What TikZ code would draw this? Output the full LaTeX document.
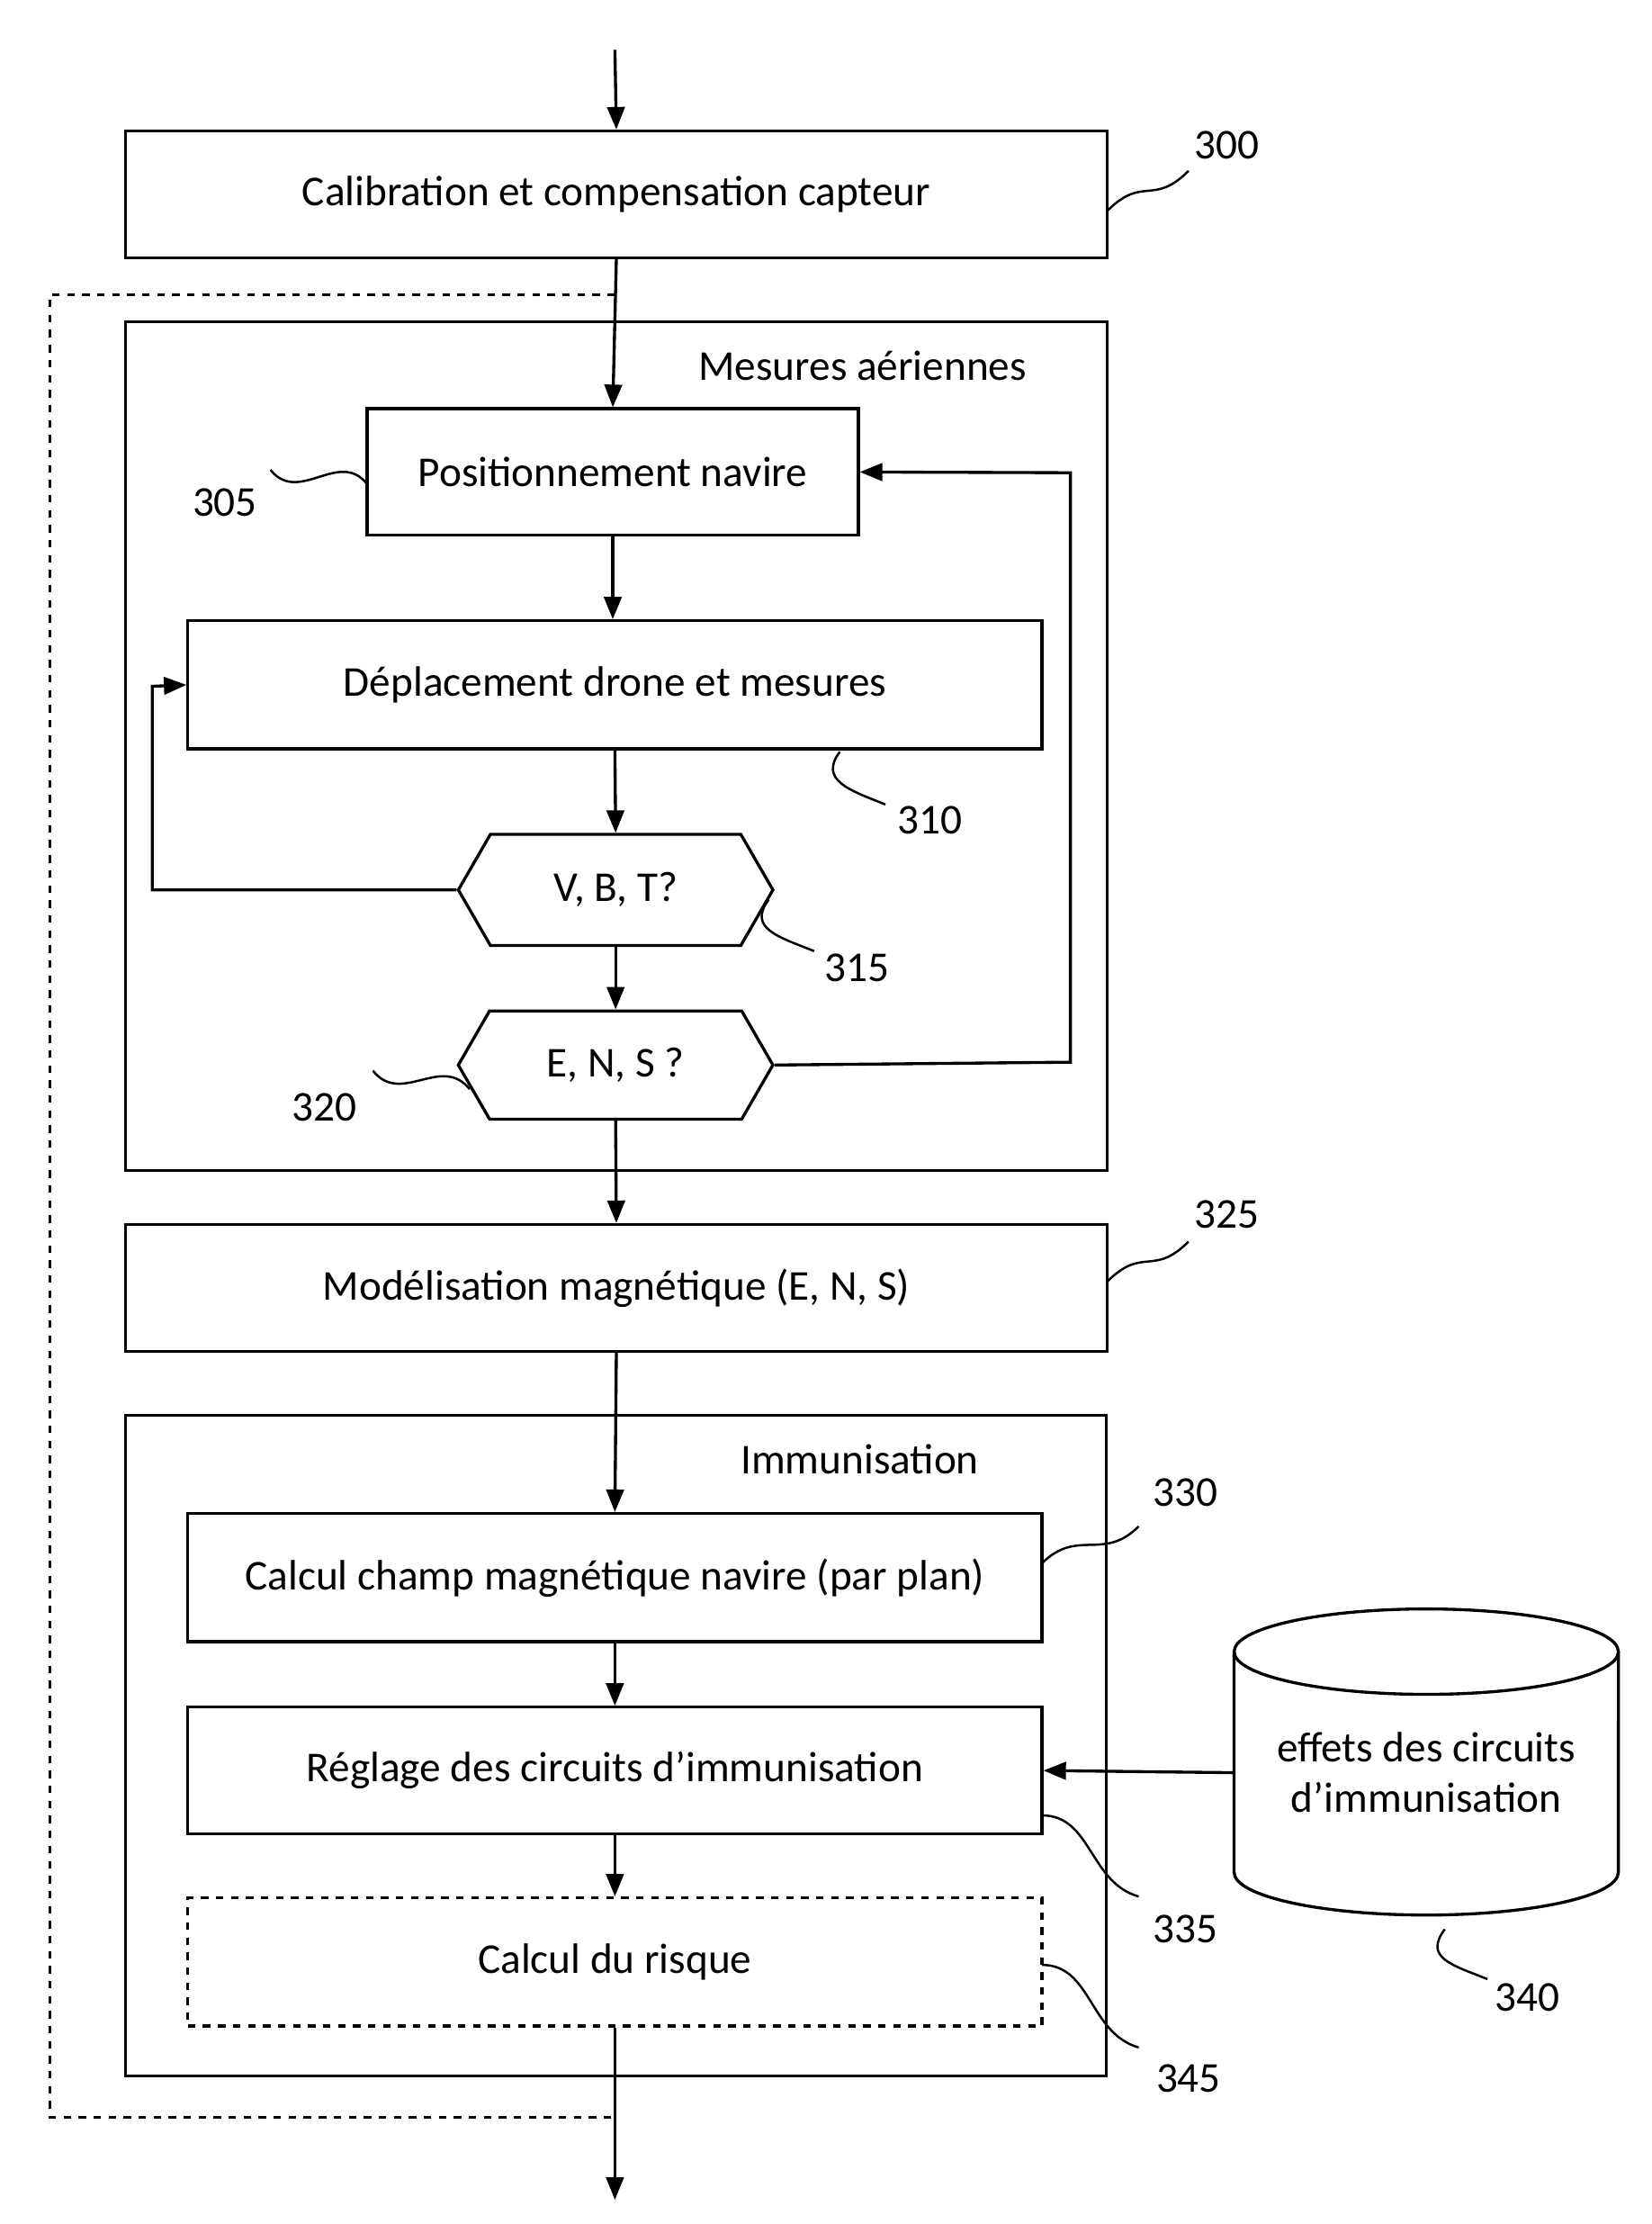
\documentclass[tikz,border=0pt]{standalone}
\usepackage{fontspec}
\setmainfont{Carlito}
\usetikzlibrary{arrows.meta,shapes.geometric,shapes.symbols}
\begin{document}
\begin{tikzpicture}[x=0.02cm,y=-0.02cm,line width=1.2pt,
 box/.style={draw,rectangle,minimum width=#1*0.02cm,inner sep=0pt,font=\fontsize{17}{20}\selectfont},
 box/.default=690,
 hex/.style={draw,signal,signal to=east and west,signal pointer angle=120,minimum width=221*0.02cm,minimum height=78*0.02cm,inner sep=0pt,font=\fontsize{17}{20}\selectfont},
 lab/.style={font=\fontsize{17}{20}\selectfont},
 ar/.style={-{Triangle[length=9pt,width=7pt]}},
 sq/.style={line width=0.9pt}]
\useasboundingbox (0,0) rectangle (1160,1562);
% frames
\node[draw,minimum width=690*0.02cm,minimum height=596*0.02cm] (f1) at (433,524) {};
\node[lab,anchor=center] (t1) at (606,257) {Mesures aériennes};
\node[draw,minimum width=689*0.02cm,minimum height=464*0.02cm] (f2) at (432.5,1226) {};
\node[lab] (t2) at (604,1025) {Immunisation};
% boxes
\node[box,minimum height=89*0.02cm] (b300) at (433,136.5) {Calibration et compensation capteur};
\node[box=345,minimum height=89*0.02cm] (b305) at (430.5,331.5) {Positionnement navire};
\node[box=600,minimum height=90*0.02cm] (b310) at (432,481) {Déplacement drone et mesures};
\node[hex] (b315) at (432.5,625) {V, B, T?};
\node[hex,minimum height=76*0.02cm] (b320) at (432.5,748) {E, N, S ?};
\node[box,minimum height=89*0.02cm] (b325) at (433,904.5) {Modélisation magnétique (E, N, S)};
\node[box=600,minimum height=90*0.02cm] (b330) at (432,1108) {Calcul champ magnétique navire (par plan)};
\node[box=600,minimum height=89*0.02cm] (b335) at (432,1243.5) {Réglage des circuits d’immunisation};
\node[box=600,minimum height=90*0.02cm,dashed] (b345) at (432,1378) {Calcul du risque};
% cylinder
\draw (867,1160) -- (867,1315) arc[start angle=180,end angle=360,x radius=2.7cm,y radius=0.6cm] -- (1137,1160);
\draw (1002,1160) ellipse[x radius=2.7cm,y radius=0.6cm];
\node[lab,align=center,minimum width=270*0.02cm,minimum height=215*0.02cm] (b340) at (1002,1245) {effets des circuits\\d’immunisation};
% coordinates
\coordinate (top) at (432,35);
\coordinate (bot) at (432,1545);
\coordinate (d1) at (432,207);
\coordinate (d2) at (35,207);
\coordinate (d3) at (35,1487);
\coordinate (d4) at (432,1487);
\coordinate (l1) at (107,625);
\coordinate (l2) at (107,482);
\coordinate (r1) at (752,746);
\coordinate (r2) at (752,332);
% arrows
\draw[ar] (top) -- (b300.north);
\draw[ar] (b300.south) -- (b305.north);
\draw[dashed] (d1) -- (d2) -- (d3) -- (d4);
\draw[ar] (b305.south) -- (b310.north -| b305.south);
\draw[ar] (b310.south) -- (b315.north);
\draw[ar] (b315.south) -- (b320.north);
\draw[ar] (b315.west) -- (l1) -- (l2) -- (b310.west);
\draw[ar] (b320.east) -- (r1) -- (r2) -- (b305.east);
\draw[ar] (b320.south) -- (b325.north);
\draw[ar] (b325.south) -- (b330.north);
\draw[ar] (b330.south) -- (b335.north);
\draw[ar] (b335.south) -- (b345.north);
\draw[ar] (b345.south) -- (bot);
\draw[ar] (b340.west) -- (b335.east);
% labels + squiggles
\node[lab] (n300) at (862,102) {300};
\node[lab] (n305) at (158,353) {305};
\node[lab] (n310) at (653,576) {310};
\node[lab] (n315) at (602,680) {315};
\node[lab] (n320) at (228,778) {320};
\node[lab] (n325) at (862,853) {325};
\node[lab] (n330) at (833,1048) {330};
\node[lab] (n335) at (833,1355) {335};
\node[lab] (n340) at (1073,1403) {340};
\node[lab] (n345) at (835,1460) {345};
\coordinate (s300a) at (778,148); \coordinate (s300b) at (835,120);
\coordinate (s305a) at (258,340); \coordinate (s305b) at (190,330);
\coordinate (s310a) at (590,528); \coordinate (s310b) at (622,565);
\coordinate (s315a) at (540,632); \coordinate (s315b) at (572,668);
\coordinate (s320a) at (330,765); \coordinate (s320b) at (262,752);
\coordinate (s325a) at (778,900); \coordinate (s325b) at (835,872);
\coordinate (s330a) at (732,1098); \coordinate (s330b) at (800,1072);
\coordinate (s335a) at (732,1275); \coordinate (s335b) at (800,1332);
\coordinate (s340a) at (1015,1355); \coordinate (s340b) at (1045,1390);
\coordinate (s345a) at (732,1380); \coordinate (s345b) at (800,1438);
\foreach \s in {300,325,330} \draw[sq] (s\s a) .. controls +(25,-25) and +(-25,25) .. (s\s b);
\foreach \s in {305,320} \draw[sq] (s\s a) .. controls +(-20,-25) and +(20,25) .. (s\s b);
\foreach \s in {310,315,340} \draw[sq] (s\s a) .. controls +(-15,20) and +(-25,-10) .. (s\s b);
\foreach \s in {335,345} \draw[sq] (s\s a) .. controls +(35,0) and +(-35,-10) .. (s\s b);
\end{tikzpicture}
\end{document}
